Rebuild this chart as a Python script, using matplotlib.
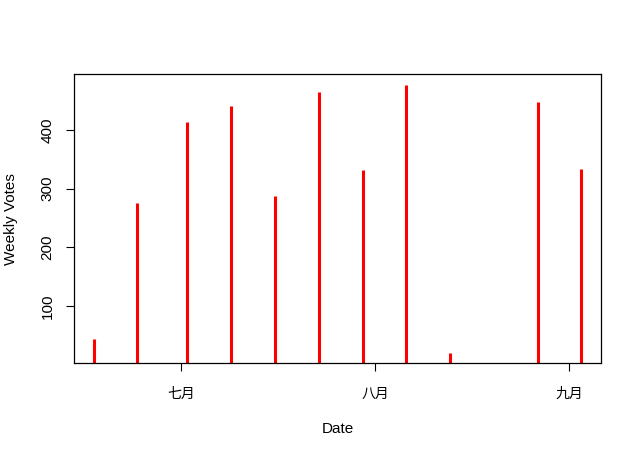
import matplotlib
matplotlib.use("Agg")
import matplotlib.pyplot as plt
import matplotlib.dates as mdates
import numpy as np
import datetime as dt

dates = ["2023-06-17", "2023-06-24", "2023-07-02", "2023-07-09", "2023-07-16",
         "2023-07-23", "2023-07-30", "2023-08-06", "2023-08-13", "2023-08-27",
         "2023-09-03"]
votes = [44, 276, 414, 440, 288, 464, 332, 477, 21, 448, 333]
month_ticks = ["2023-07-01", "2023-08-01", "2023-09-01"]
month_labels = ["七月", "八月", "九月"]

plt.rcParams['font.family'] = ['Liberation Sans', 'Noto Sans CJK SC', 'DejaVu Sans']

x = [dt.datetime.strptime(d, "%Y-%m-%d") for d in dates]
xn = mdates.date2num(x)

fig = plt.figure(figsize=(6.4, 4.57), dpi=100)
ax = fig.add_axes([74/640, (457-363.3)/457, (601-74)/640, (363.3-74)/457])

ax.vlines(xn, 0, votes, color="red", linewidth=2.2, capstyle="butt")

xr = xn.max() - xn.min()
ax.set_xlim(xn.min() - 0.04*xr, xn.max() + 0.04*xr)
yr = max(votes) - min(votes)
ax.set_ylim(min(votes) - 0.04*yr, max(votes) + 0.04*yr)

tk = mdates.date2num([dt.datetime.strptime(d, "%Y-%m-%d") for d in month_ticks])
ax.set_xticks(tk)
ax.set_xticklabels(month_labels, fontsize=10, family=['Noto Sans CJK SC', 'DejaVu Sans'])
ax.set_yticks([100, 200, 300, 400])
ax.set_yticklabels(["100", "200", "300", "400"], rotation=90, va="center", fontsize=11)

ax.tick_params(axis="both", length=6, width=0.8, color="black")
ax.tick_params(axis="x", pad=11)
ax.tick_params(axis="y", pad=8)
for s in ax.spines.values():
    s.set_linewidth(0.9)
    s.set_color("black")

ax.set_xlabel("Date", fontsize=11, labelpad=15)
ax.set_ylabel("Weekly Votes", fontsize=11, labelpad=16)

fig.savefig("out.png", dpi=100)
